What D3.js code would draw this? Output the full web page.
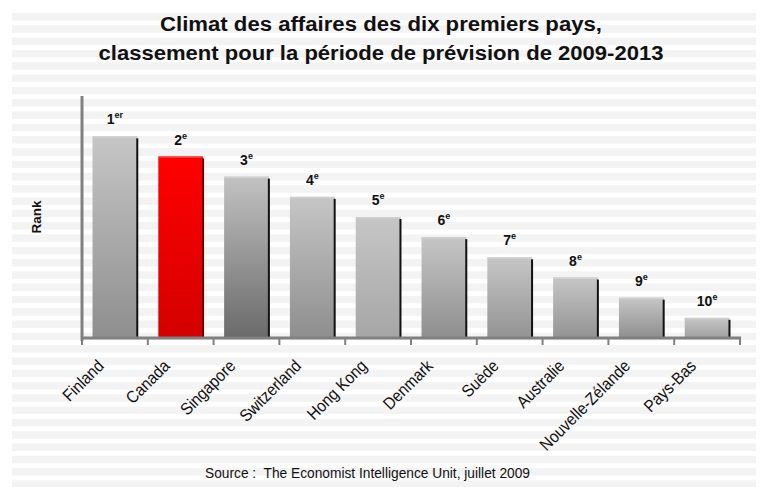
<!DOCTYPE html>
<html><head><meta charset="utf-8">
<script src="https://cdn.jsdelivr.net/npm/d3@7/dist/d3.min.js"></script>
<style>body{margin:0;background:#fff}svg{display:block}text{font-family:"Liberation Sans",Arial,sans-serif}</style>
</head><body>
<script>
const countries = ["Finland","Canada","Singapore","Switzerland","Hong Kong","Denmark","Suède","Australie","Nouvelle-Zélande","Pays-Bas"];
const ranks = [1,2,3,4,5,6,7,8,9,10];
const scores = [10,9,8,7,6,5,4,3,2,1];
const rankSuffix = ["er","e","e","e","e","e","e","e","e","e"];
const titleLines = ["Climat des affaires des dix premiers pays,","classement pour la période de prévision de 2009-2013"];
const sourceText = "Source :  The Economist Intelligence Unit, juillet 2009";
const yLabel = "Rank";

const W=761,H=487;
const svg=d3.select("body").append("svg").attr("width",W).attr("height",H);
const defs=svg.append("defs");
const bottoms=["#8e8e8e","#d40000","#6a6a6a","#8e8e8e","#a6a6a6","#8e8e8e","#939393","#939393","#8e8e8e","#a0a0a0"];
const tops=["#c6c6c6","#ff0000","#c2c2c2","#c6c6c6","#c6c6c6","#c6c6c6","#c6c6c6","#c6c6c6","#c6c6c6","#c6c6c6"];
countries.forEach((c,i)=>{
  const g=defs.append("linearGradient").attr("id","g"+i).attr("x1",0).attr("y1",0).attr("x2",0).attr("y2",1);
  g.append("stop").attr("offset","0%").attr("stop-color",tops[i]);
  g.append("stop").attr("offset","100%").attr("stop-color",bottoms[i]);
});

// striped background
const stripes=d3.range(13,H,12.3);
svg.selectAll("rect.stripe").data(stripes).enter().append("rect")
  .attr("x",12).attr("width",744).attr("y",d=>d).attr("height",7.5).attr("fill","#f3f3f3");

const x=d3.scaleBand().domain(countries).range([82,740]).paddingInner(0.32).paddingOuter(0.16);
const y=d3.scaleLinear().domain([0,12]).range([338,96]);

// bars
const bars=svg.append("g");
countries.forEach((c,i)=>{
  const bx=x(c), bw=x.bandwidth(), by=y(scores[i]);
  bars.append("rect").attr("x",bx).attr("y",by).attr("width",bw).attr("height",y(0)-by).attr("fill",`url(#g${i})`);
  bars.append("rect").attr("x",bx).attr("y",by).attr("width",bw).attr("height",1.5).attr("fill",i===1?"#ff3030":"#d0d0d0");
  bars.append("rect").attr("x",bx+bw-1).attr("y",by+2).attr("width",2).attr("height",y(0)-by-2).attr("fill",i===1?"#600000":"#111");
  const t=svg.append("text").attr("x",bx+bw/2).attr("y",by-12).attr("text-anchor","middle")
    .attr("font-size",14).attr("font-weight","bold").attr("fill","#111");
  t.append("tspan").text(ranks[i]);
  t.append("tspan").attr("font-size",9).attr("dy",-6).text(rankSuffix[i]);
});

// axes
const ax=svg.append("g").attr("stroke","#808080");
ax.append("line").attr("x1",82).attr("x2",82).attr("y1",96).attr("y2",341).attr("stroke-width",3);
ax.append("line").attr("x1",81).attr("x2",741).attr("y1",338).attr("y2",338).attr("stroke-width",3);
const bounds=countries.map(c=>x(c)-x.step()*x.paddingInner()/2);
bounds[0]=82; bounds.push(740);
ax.selectAll("line.t").data(bounds).enter().append("line")
  .attr("x1",d=>d).attr("x2",d=>d).attr("y1",338).attr("y2",345).attr("stroke-width",2);

// category labels
svg.selectAll("text.cat").data(countries).enter().append("text")
  .attr("transform",c=>`translate(${x(c)+x.bandwidth()/2-10},367) rotate(-45) scale(0.9,1)`)
  .attr("text-anchor","end").attr("font-size",17).attr("fill","#111").text(d=>d);

// title
svg.selectAll("text.title").data(titleLines).enter().append("text")
  .attr("x",381).attr("y",(d,i)=>31+i*29).attr("text-anchor","middle")
  .attr("font-size",20).attr("font-weight","bold").attr("fill","#111")
  .attr("textLength",(d,i)=>i===0?442:565).attr("lengthAdjust","spacingAndGlyphs").text(d=>d);

// y label
svg.append("text").attr("transform","translate(41,217) rotate(-90)").attr("text-anchor","middle")
  .attr("font-size",13).attr("font-weight","bold").attr("fill","#111")
  .attr("textLength",33).attr("lengthAdjust","spacingAndGlyphs").text(yLabel);

// source
svg.append("text").attr("x",205).attr("y",478).attr("font-size",14).attr("fill","#111")
  .style("white-space","pre")
  .attr("textLength",325).attr("lengthAdjust","spacingAndGlyphs").text(sourceText);
</script>
</body></html>
